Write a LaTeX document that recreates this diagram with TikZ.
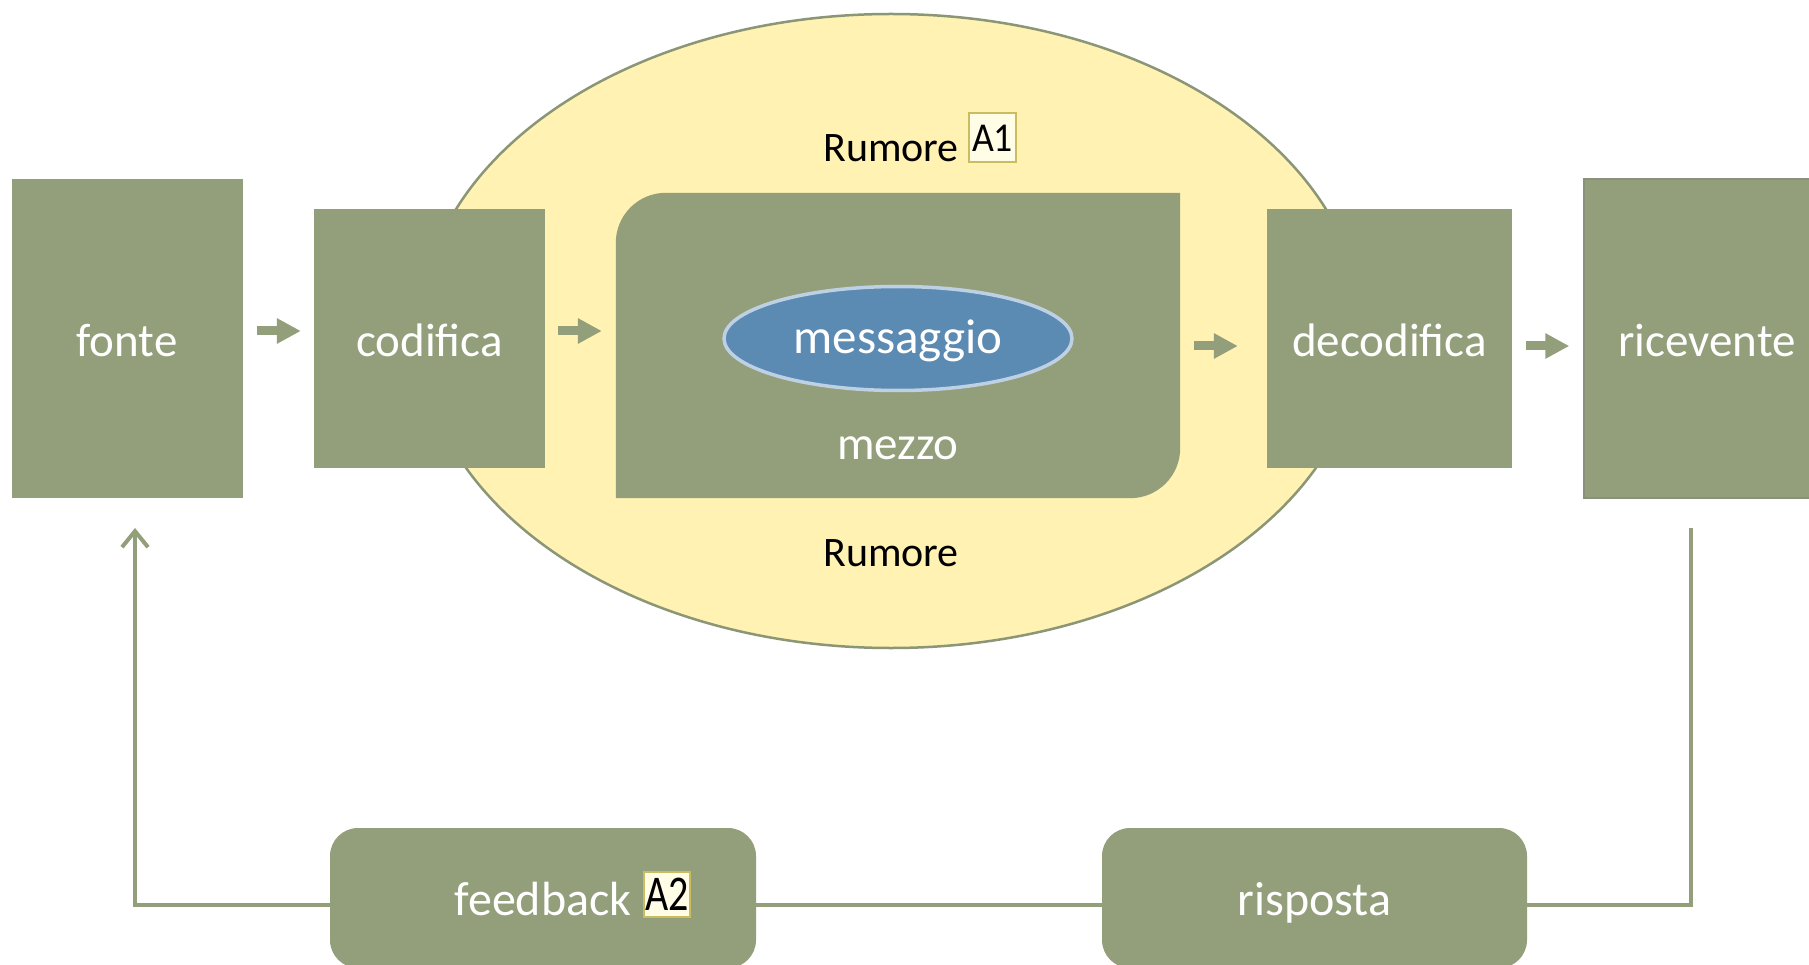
\documentclass[tikz,border=0pt]{standalone}
\usepackage{fontspec}
\setmainfont{Carlito}
\usetikzlibrary{shapes.geometric,arrows.meta,calc}

\definecolor{sage}{RGB}{147,159,122}
\definecolor{noise}{RGB}{255,242,179}
\definecolor{noiseedge}{RGB}{139,150,118}
\definecolor{msgblue}{RGB}{91,138,179}
\definecolor{msgedge}{RGB}{190,208,228}
\definecolor{tagfill}{RGB}{255,253,230}
\definecolor{tagedge}{RGB}{204,188,96}
\definecolor{recedge}{RGB}{138,144,124}

\tikzset{
  stage/.style={rectangle, fill=sage, text=white, inner sep=0pt,
    text height=35pt, text depth=0pt, font=\fontsize{47}{52}\selectfont},
  lowbox/.style={rectangle, rounded corners=28pt, fill=sage, text=white, inner sep=0pt,
    text height=34pt, text depth=0pt, font=\fontsize{48}{52}\selectfont},
  whitetext/.style={text=white, inner sep=0pt, font=\fontsize{47}{52}\selectfont},
  noisetext/.style={text=black, inner sep=0pt, font=\fontsize{42}{46}\selectfont},
  tag/.style={rectangle, fill=tagfill, draw=tagedge, line width=1.5pt, inner sep=0pt,
    text=black, text depth=0pt},
  flow/.style={draw=sage, line width=9pt, -{Triangle[length=24pt,width=24pt]}},
  loopline/.style={draw=sage, line width=4pt, line join=miter},
}

\begin{document}
\begin{tikzpicture}[x=1pt,y=-1pt]
  \fill[white] (0,0) rectangle (1809,965);
  \useasboundingbox (0,0) rectangle (1809,965);

  % noise field around the channel
  \node[ellipse, fill=noise, draw=noiseedge, line width=2.5pt, inner sep=0pt,
        minimum width=942pt, minimum height=634pt] (noise) at (891,331) {};
  \node[noisetext, anchor=base] (rumoretop) at (891,162) {Rumore};
  \node[noisetext, anchor=base] (rumorebottom) at (891,566) {Rumore};
  \node[tag, minimum width=47pt, minimum height=49pt, text height=28pt,
        font=\fontsize{41}{44}\selectfont] (tagA) at (992.5,137.5) {\scalebox{0.92}[1]{A1}};

  % main chain
  \node[stage, minimum width=231pt, minimum height=319pt] (fonte) at (127,338.5) {fonte};
  \node[stage, minimum width=231pt, minimum height=259pt] (codifica) at (429.5,338.5) {codifica};
  \node[stage, minimum width=245pt, minimum height=259pt] (decodifica) at (1389.5,338.5) {decodifica};
  \node[stage, draw=recedge, line width=1.5pt, minimum width=246pt, minimum height=319pt] (ricevente) at (1707,338.5) {ricevente};

  % channel (medium) with two rounded corners
  \node[rectangle, inner sep=0pt, minimum width=564pt, minimum height=305pt] (mezzo) at (898,345.5) {};
  \fill[sage] (mezzo.south west) -- ([yshift=-50pt]mezzo.north west)
     arc[start angle=180, end angle=90, radius=50pt] -- (mezzo.north east)
     -- ([yshift=50pt]mezzo.south east)
     arc[start angle=0, end angle=-90, radius=50pt] -- cycle;
  \node[ellipse, fill=msgblue, draw=msgedge, line width=3.5pt, inner sep=0pt,
        minimum width=348pt, minimum height=104pt, text=white,
        font=\fontsize{49}{54}\selectfont, text height=29pt, text depth=0pt] (messaggio) at (898,338.5) {messaggio};
  \node[whitetext, anchor=base] (mezzolabel) at (898,459) {mezzo};

  % forward arrows
  \draw[flow] ($(fonte.east|-0,331)+(14,0)$) -- ($(codifica.west|-0,331)+(-13,0)$);
  \draw[flow] ($(codifica.east|-0,331)+(13,0)$) -- ($(mezzo.west|-0,331)+(-14,0)$);
  \draw[flow] ($(mezzo.east|-0,346)+(14,0)$) -- ($(decodifica.west|-0,346)+(-29,0)$);
  \draw[flow] ($(decodifica.east|-0,346)+(14,0)$) -- ($(ricevente.west|-0,346)+(-14,0)$);

  % feedback loop
  \node[lowbox, minimum width=426pt, minimum height=140pt] (feedback) at (543,898) {feedback};
  \node[tag, minimum width=46pt, minimum height=45pt, text height=32pt,
        font=\fontsize{50}{54}\selectfont] (tagB) at (667,894.5) {\scalebox{0.8}[1]{A2}};
  \node[lowbox, minimum width=425pt, minimum height=140pt] (risposta) at (1314.5,898) {risposta};

  \coordinate (loopL) at (135,905);
  \coordinate (fbtip) at (135,528);
  \coordinate (loopR) at (1691,905);
  \coordinate (fbstart) at (1691,528);

  \draw[loopline, -{Straight Barb[length=16pt,width=26pt]}] (feedback.west|-loopL) -- (loopL) -- (fbtip);
  \draw[loopline] (feedback.east|-loopL) -- (risposta.west|-loopL);
  \draw[loopline] (risposta.east|-loopR) -- (loopR) -- (fbstart);
\end{tikzpicture}
\end{document}
